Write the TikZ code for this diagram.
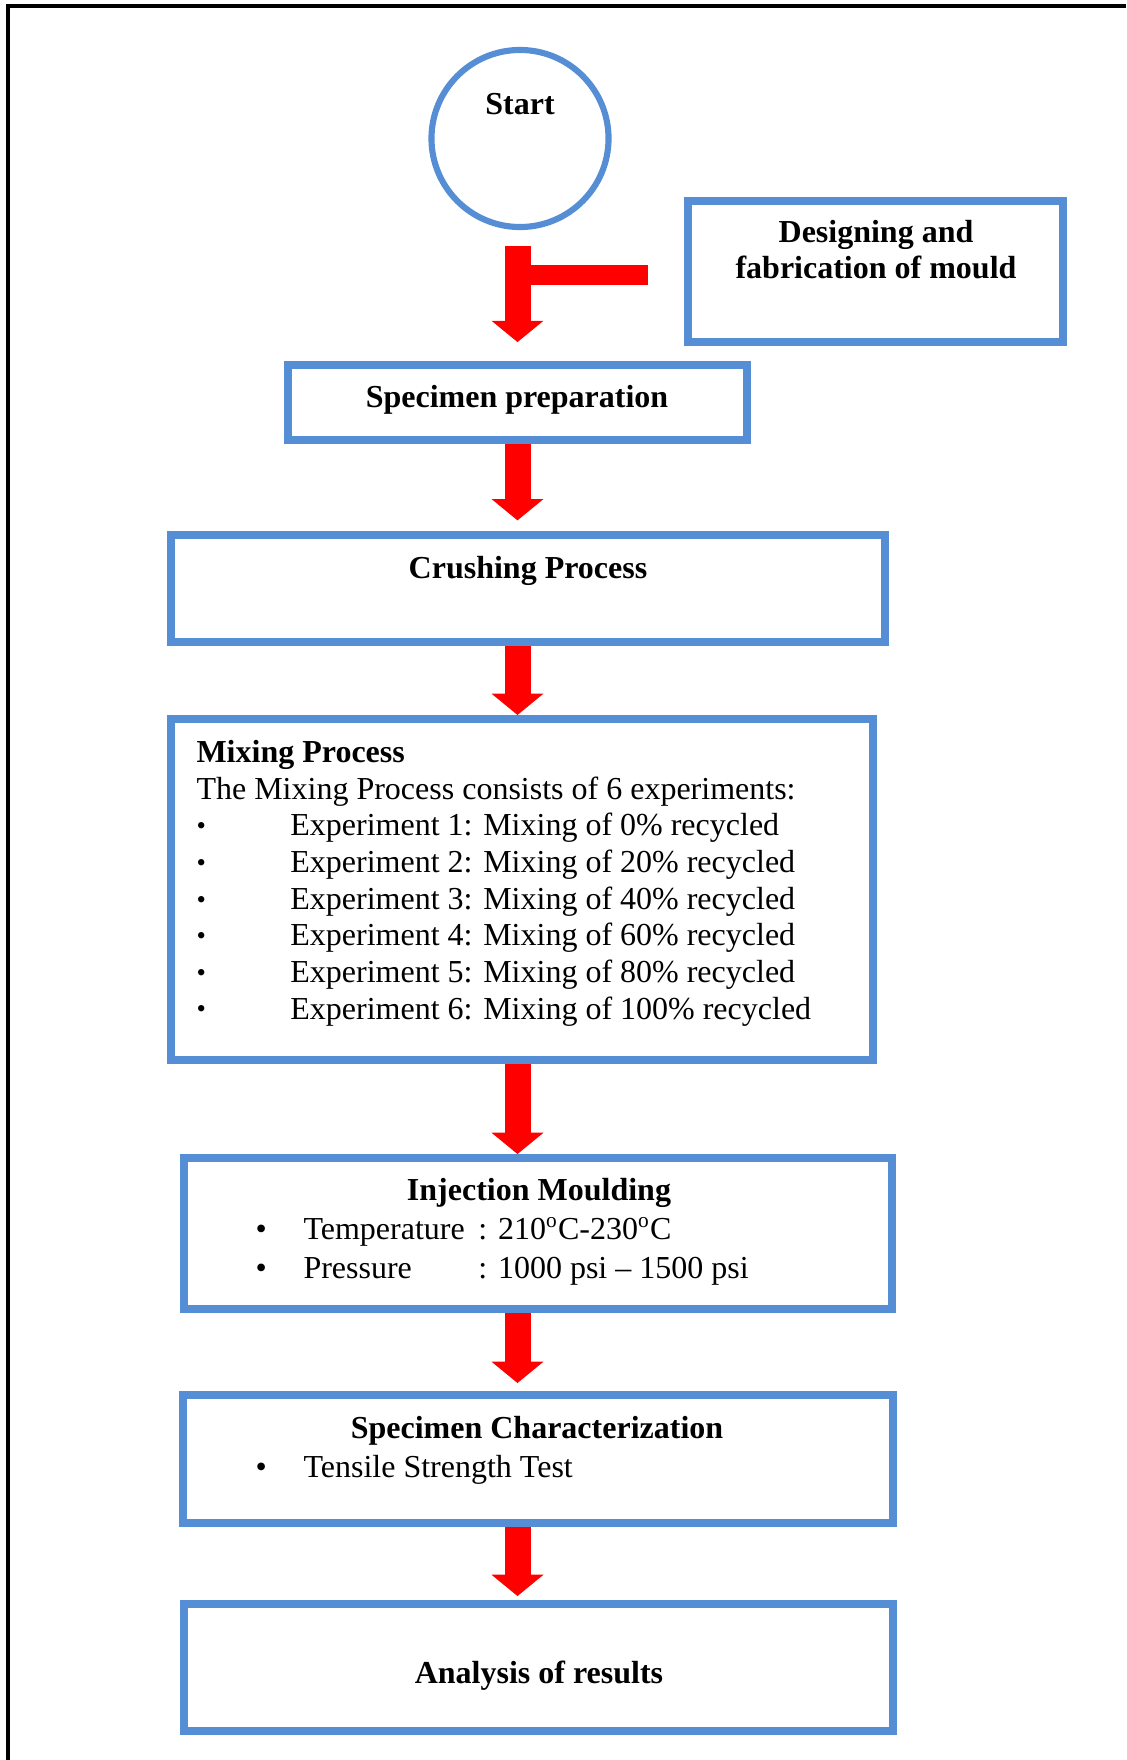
\documentclass[tikz,border=0pt]{standalone}
\usepackage{fontspec}
\setmainfont{Liberation Serif}
\usetikzlibrary{positioning,arrows.meta}
\definecolor{boxblue}{HTML}{558ED5}
\definecolor{flowred}{HTML}{FF0000}
\newcommand{\mixitem}{\makebox[35.2pt][l]{\raisebox{0.4pt}{\fontsize{10}{10}\selectfont •}}}
\newcommand{\injitem}{\makebox[18pt][l]{•}}

\begin{document}
\begin{tikzpicture}[x=0.375pt,y=-0.375pt,
    every node/.style={font=\fontsize{12}{13.73}\selectfont,inner sep=0pt},
    box/.style={draw=boxblue,line width=3pt,rectangle},
    flow/.style={draw=flowred,line width=9.75pt,-{Triangle[width=19.5pt,length=8pt,line width=0pt]}},
    bar/.style={draw=flowred,line width=7.5pt},
    frame/.style={draw=black,line width=1.5pt}]
    \useasboundingbox (0,0) rectangle (1126,1760);
    \draw[frame] (1126,6) -- (8,6) -- (8,1760);

    \node[draw=boxblue,line width=2.3pt,circle,minimum size=66.4pt] (start) at (520,138.5) {};
    \node[anchor=base,font=\fontsize{12}{13.73}\bfseries] (starttxt) at (520,115) {Start};

    \node[box,minimum width=140.6pt,minimum height=52.9pt] (design) at (875.5,271.5) {};
    \node[anchor=base,align=center,font=\fontsize{12}{13.5}\bfseries] (designtxt) at (876,279)
      {Designing and\\fabrication of mould};

    \node[box,minimum width=172.1pt,minimum height=28.1pt] (prep) at (517.5,402.5) {};
    \node[anchor=base,font=\fontsize{12}{13.73}\bfseries] (preptxt) at (517,408) {Specimen preparation};

    \node[box,minimum width=267.4pt,minimum height=40.1pt] (crush) at (528,588.5) {};
    \node[anchor=base,font=\fontsize{12}{13.73}\bfseries] (crushtxt) at (528,578) {Crushing Process};

    \node[box,minimum width=263.1pt,minimum height=127.9pt] (mix) at (522,889.5) {};
    \node[anchor=base west,align=left] (mixtxt) at (196,1019)
      {\textbf{Mixing Process}\\
       The Mixing Process consists of 6 experiments:\\
       \mixitem Experiment 1: Mixing of 0\% recycled\\
       \mixitem Experiment 2: Mixing of 20\% recycled\\
       \mixitem Experiment 3: Mixing of 40\% recycled\\
       \mixitem Experiment 4: Mixing of 60\% recycled\\
       \mixitem Experiment 5: Mixing of 80\% recycled\\
       \mixitem Experiment 6: Mixing of 100\% recycled};

    \node[box,minimum width=265.5pt,minimum height=56.6pt] (inj) at (538,1233.5) {};
    \node[anchor=base,font=\fontsize{12}{13.73}\bfseries] (injtxt) at (539,1200) {Injection Moulding};
    \node[anchor=base west,align=left,font=\fontsize{12}{14.6}\selectfont] (injlist) at (255,1278)
      {\injitem\makebox[65.6pt][l]{Temperature}: 210\textsuperscript{o}C-230\textsuperscript{o}C\\
       \injitem\makebox[65.6pt][l]{Pressure}: 1000 psi -- 1500 psi};

    \node[box,minimum width=266.25pt,minimum height=48pt] (char) at (538,1459) {};
    \node[anchor=base,font=\fontsize{12}{13.73}\bfseries] (chartxt) at (537,1438) {Specimen Characterization};
    \node[anchor=base west] (charlist) at (255,1477) {\injitem Tensile Strength Test};

    \node[box,minimum width=266pt,minimum height=47.6pt] (result) at (538.5,1667.5) {};
    \node[anchor=base,font=\fontsize{12}{13.73}\bfseries] (resulttxt) at (539,1683) {Analysis of results};

    \coordinate (join) at (517.5,275);
    \coordinate (barend) at (648,275);
    \draw[bar] (join) -- (barend);
    \draw[flow,shorten <=6pt,shorten >=7.1pt] (prep.north |- start.south) -- (prep.north);
    \draw[flow,shorten >=4pt] (prep.south) -- (prep.south |- crush.north);
    \draw[flow] (prep.south |- crush.south) -- (prep.south |- mix.north);
    \draw[flow] (prep.south |- mix.south) -- (prep.south |- inj.north);
    \draw[flow,shorten >=3pt] (prep.south |- inj.south) -- (prep.south |- char.north);
    \draw[flow,shorten >=1.5pt] (prep.south |- char.south) -- (prep.south |- result.north);
  \end{tikzpicture}
\end{document}
